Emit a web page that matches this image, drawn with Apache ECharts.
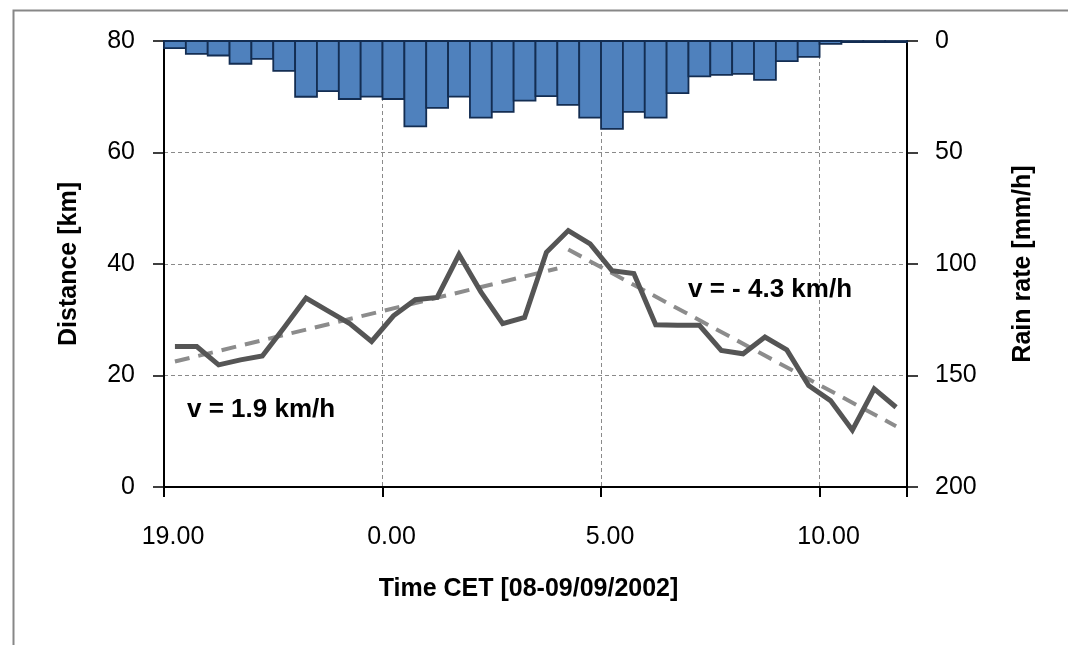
<!DOCTYPE html>
<html>
<head>
<meta charset="utf-8">
<script src="https://cdn.jsdelivr.net/npm/echarts@6/dist/echarts.min.js"></script>
<style>
html,body{margin:0;padding:0;background:#fff;}
#chart{width:1068px;height:645px;}
</style>
</head>
<body>
<div id="chart"></div>
<script>
// Hours after 19:00 CET (half-hour interval centres)
var hours = [0.25, 0.75, 1.25, 1.75, 2.25, 2.75, 3.25, 3.75, 4.25, 4.75,
             5.25, 5.75, 6.25, 6.75, 7.25, 7.75, 8.25, 8.75, 9.25, 9.75,
             10.25, 10.75, 11.25, 11.75, 12.25, 12.75, 13.25, 13.75, 14.25, 14.75,
             15.25, 15.75, 16.25, 16.75];
// Distance [km]
var distance = [25.2, 25.2, 21.9, 22.8, 23.5, 28.6, 33.9, 31.6, 29.3, 26.1,
                30.7, 33.6, 34.0, 41.7, 35.0, 29.3, 30.4, 42.1, 46.0, 43.6,
                38.8, 38.3, 29.1, 29.0, 29.0, 24.5, 23.9, 26.9, 24.6, 18.2,
                15.5, 10.2, 17.6, 14.3];
// Rain rate [mm/h]
var rainRate = [3.2, 5.8, 6.5, 10.2, 8.0, 13.4, 25.0, 22.5, 26.0, 24.9,
                26.0, 38.3, 30.0, 24.9, 34.4, 31.8, 26.7, 24.7, 28.6, 34.4,
                39.4, 31.8, 34.4, 23.4, 15.9, 15.2, 14.7, 17.4, 9.0, 7.1,
                1.3, 0.5, 0.5, 0.5];
// Linear trends (start/end points)
var trendHours1 = [0.25, 9.0];
var trendValues1 = [22.5, 39.2];
var trendHours2 = [9.25, 16.75];
var trendValues2 = [42.6, 10.9];
// X tick labels (every 5 hours from 19:00)
var xTickLabels = ['19.00', '0.00', '5.00', '10.00'];
var halfBin = 0.25;

var FONT = '"Liberation Sans", Arial, sans-serif';

function pairs(xs, ys) { return xs.map(function (x, i) { return [x, ys[i]]; }); }

var chart = echarts.init(document.getElementById('chart'), null, {renderer: 'canvas'});

var option = {
  animation: false,
  backgroundColor: '#ffffff',
  textStyle: {fontFamily: FONT},
  grid: {left: 164, right: 161, top: 41, bottom: 158, containLabel: false},
  xAxis: {
    type: 'value', min: 0, max: 17, interval: 5,
    name: 'Time CET [08-09/09/2002]', nameLocation: 'middle', nameGap: 90,
    nameTextStyle: {fontFamily: FONT, fontSize: 25, fontWeight: 'bold', color: '#000', padding: [0, 14, 0, 0]},
    axisLine: {show: true, lineStyle: {color: '#000', width: 2}},
    axisTick: {show: true, length: 10, lineStyle: {color: '#000', width: 2}},
    axisLabel: {
      margin: 38, fontFamily: FONT, fontSize: 25, color: '#000', padding: [0, 0, 0, 18],
      formatter: function (v) {
        if (Math.abs(v % 5) < 1e-9) { return xTickLabels[Math.round(v / 5)] || ''; }
        return '';
      }
    },
    splitLine: {show: true, lineStyle: {color: '#8a8a8a', width: 1, type: [4, 3]}}
  },
  yAxis: [{
    type: 'value', min: 0, max: 80, interval: 20, position: 'left',
    name: 'Distance [km]', nameLocation: 'middle', nameGap: 82, nameRotate: 90,
    nameTextStyle: {fontFamily: FONT, fontSize: 25, fontWeight: 'bold', color: '#000'},
    axisLine: {show: true, lineStyle: {color: '#000', width: 2}},
    axisTick: {show: true, length: 11, lineStyle: {color: '#000', width: 1.5}},
    axisLabel: {margin: 29, fontFamily: FONT, fontSize: 25, color: '#000'},
    splitLine: {show: true, lineStyle: {color: '#8a8a8a', width: 1, type: [4, 3]}}
  }, {
    type: 'value', min: 0, max: 200, interval: 50, position: 'right', inverse: true,
    name: 'Rain rate [mm/h]', nameLocation: 'middle', nameGap: 104, nameRotate: 90,
    nameTextStyle: {fontFamily: FONT, fontSize: 25, fontWeight: 'bold', color: '#000'},
    axisLine: {show: true, lineStyle: {color: '#000', width: 2}},
    axisTick: {show: true, length: 11, lineStyle: {color: '#000', width: 1.5}},
    axisLabel: {margin: 28, fontFamily: FONT, fontSize: 25, color: '#000'},
    splitLine: {show: false}
  }],
  series: [{
    type: 'custom', name: 'Rain rate', xAxisIndex: 0, yAxisIndex: 1, z: 2,
    data: pairs(hours, rainRate),
    renderItem: function (params, api) {
      var t = api.value(0), v = api.value(1);
      var p0 = api.coord([t - halfBin, 0]);
      var p1 = api.coord([t + halfBin, v]);
      return {
        type: 'rect',
        shape: {x: Math.min(p0[0], p1[0]), y: Math.min(p0[1], p1[1]),
                width: Math.abs(p1[0] - p0[0]), height: Math.abs(p1[1] - p0[1])},
        style: {fill: '#4F81BD', stroke: '#132D52', lineWidth: 1.8}
      };
    },
    encode: {x: 0, y: 1}
  }, {
    type: 'line', name: 'trend1', xAxisIndex: 0, yAxisIndex: 0, z: 3,
    data: pairs(trendHours1, trendValues1), symbol: 'none',
    lineStyle: {color: '#8c8c8c', width: 4, type: [15, 9]}
  }, {
    type: 'line', name: 'trend2', xAxisIndex: 0, yAxisIndex: 0, z: 3,
    data: pairs(trendHours2, trendValues2), symbol: 'none',
    lineStyle: {color: '#8c8c8c', width: 4, type: [15, 9]}
  }, {
    type: 'line', name: 'Distance', xAxisIndex: 0, yAxisIndex: 0, z: 4,
    data: pairs(hours, distance), symbol: 'none',
    lineStyle: {color: '#555555', width: 5, join: 'miter'}
  }],
  graphic: [{
    type: 'rect', silent: true, z: 100,
    shape: {x: 13.5, y: 10.5, width: 1200, height: 800},
    style: {fill: 'none', stroke: '#878787', lineWidth: 2}
  }, {
    type: 'text', silent: true, z: 100,
    style: {x: 187, y: 410, text: 'v = 1.9 km/h', fontFamily: FONT, fontSize: 26,
            fontWeight: 'bold', fill: '#000', verticalAlign: 'middle', align: 'left'}
  }, {
    type: 'text', silent: true, z: 100,
    style: {x: 688, y: 290, text: 'v = - 4.3 km/h', fontFamily: FONT, fontSize: 26,
            fontWeight: 'bold', fill: '#000', verticalAlign: 'middle', align: 'left'}
  }]
};
chart.setOption(option);
</script>
</body>
</html>
